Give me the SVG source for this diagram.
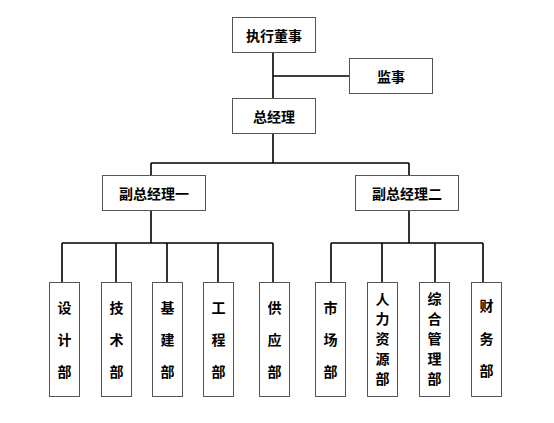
<svg xmlns="http://www.w3.org/2000/svg" width="554" height="423" viewBox="0 0 554 423">
<style>
.b{fill:#fff;stroke:#555;stroke-width:1}
.t{font-family:"Noto Sans CJK SC","Noto Sans CJK JP",sans-serif;font-size:14px;font-weight:bold;fill:#000;text-anchor:middle;dominant-baseline:central}
.c{stroke:#000;stroke-width:1.6;fill:none}
</style>
<rect width="554" height="423" fill="#fff"/>
<g id="connectors">
<path class="c" d="M273,52V98M273,76H349M273,133V163M151,163H409M151,163V175M409,163V175"/>
<path class="c" d="M151,210V243M62,243H273M62,243V282M116,243V282M167,243V282M218,243V282M273,243V282"/>
<path class="c" d="M409,210V243M331,243H483M331,243V282M382,243V282M435,243V282M483,243V282"/>
</g>
<g id="n1"><rect class="b" x="232.5" y="17.5" width="83" height="35"/><text class="t" x="274" y="35">执行董事</text></g>
<g id="n2"><rect class="b" x="349.5" y="58.5" width="83" height="35"/><text class="t" x="391" y="76">监事</text></g>
<g id="n3"><rect class="b" x="232.5" y="98.5" width="83" height="35"/><text class="t" x="274" y="116">总经理</text></g>
<g id="n4"><rect class="b" x="102.5" y="175.5" width="103" height="35"/><text class="t" x="154" y="193">副总经理一</text></g>
<g id="n5"><rect class="b" x="355.5" y="175.5" width="103" height="35"/><text class="t" x="407" y="193">副总经理二</text></g>
<g id="d1"><rect class="b" x="49.5" y="282.5" width="30" height="114"/><text class="t" x="64.5" y="307">设</text><text class="t" x="64.5" y="339">计</text><text class="t" x="64.5" y="371">部</text></g>
<g id="d2"><rect class="b" x="101.5" y="282.5" width="30" height="114"/><text class="t" x="116.5" y="307">技</text><text class="t" x="116.5" y="339">术</text><text class="t" x="116.5" y="371">部</text></g>
<g id="d3"><rect class="b" x="152.5" y="282.5" width="30" height="114"/><text class="t" x="167.5" y="307">基</text><text class="t" x="167.5" y="339">建</text><text class="t" x="167.5" y="371">部</text></g>
<g id="d4"><rect class="b" x="203.5" y="282.5" width="30" height="114"/><text class="t" x="218.5" y="307">工</text><text class="t" x="218.5" y="339">程</text><text class="t" x="218.5" y="371">部</text></g>
<g id="d5"><rect class="b" x="259.5" y="282.5" width="30" height="114"/><text class="t" x="274.5" y="307">供</text><text class="t" x="274.5" y="339">应</text><text class="t" x="274.5" y="371">部</text></g>
<g id="d6"><rect class="b" x="315.5" y="282.5" width="30" height="114"/><text class="t" x="330.5" y="307">市</text><text class="t" x="330.5" y="339">场</text><text class="t" x="330.5" y="371">部</text></g>
<g id="d7"><rect class="b" x="367.5" y="282.5" width="30" height="114"/><text class="t" x="382.5" y="298">人</text><text class="t" x="382.5" y="318">力</text><text class="t" x="382.5" y="338">资</text><text class="t" x="382.5" y="358">源</text><text class="t" x="382.5" y="378">部</text></g>
<g id="d8"><rect class="b" x="419.5" y="282.5" width="30" height="114"/><text class="t" x="434.5" y="298">综</text><text class="t" x="434.5" y="318">合</text><text class="t" x="434.5" y="338">管</text><text class="t" x="434.5" y="358">理</text><text class="t" x="434.5" y="378">部</text></g>
<g id="d9"><rect class="b" x="471.5" y="282.5" width="30" height="114"/><text class="t" x="486.5" y="305">财</text><text class="t" x="486.5" y="338">务</text><text class="t" x="486.5" y="370">部</text></g>
</svg>
